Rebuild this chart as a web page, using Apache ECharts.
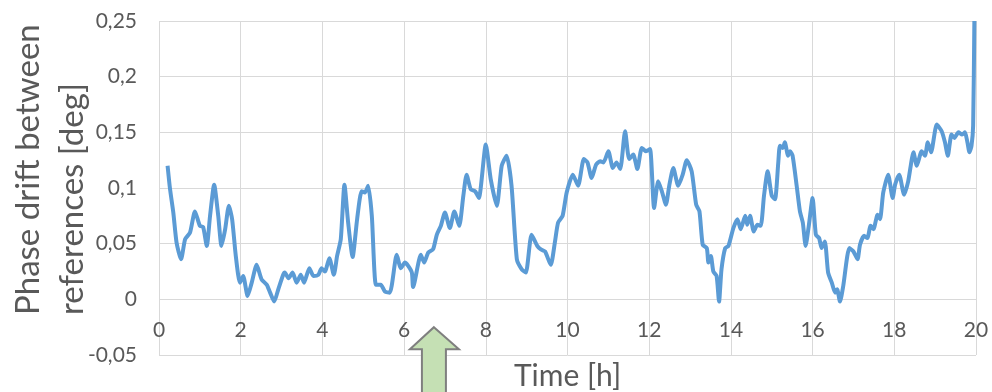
<!DOCTYPE html>
<html>
<head>
<meta charset="utf-8">
<script src="https://cdn.jsdelivr.net/npm/echarts@6/dist/echarts.min.js"></script>
<style>
  html, body { margin: 0; padding: 0; background: #ffffff; }
  #chart { width: 992px; height: 392px; }
</style>
</head>
<body>
<div id="chart"></div>
<script>
// Elapsed time in hours
const timeHours = [
  0.21, 0.27, 0.35, 0.43, 0.54, 0.64, 0.76, 0.88, 1.00, 1.08, 1.17, 1.25, 1.35, 1.45, 1.53, 1.62, 1.71, 1.79, 1.88, 1.98,
  2.06, 2.17, 2.27, 2.39, 2.51, 2.64, 2.72, 2.82, 2.92, 3.04, 3.08, 3.17, 3.27, 3.37, 3.47, 3.55, 3.68, 3.78, 3.90, 3.98,
  4.06, 4.17, 4.28, 4.36, 4.45, 4.54, 4.63, 4.74, 4.85, 4.96, 5.04, 5.12, 5.21, 5.31, 5.43, 5.53, 5.65, 5.82, 5.92, 6.02,
  6.10, 6.19, 6.22, 6.41, 6.49, 6.59, 6.71, 6.80, 6.90, 7.00, 7.12, 7.23, 7.35, 7.45, 7.53, 7.63, 7.74, 7.83, 8.00, 8.12,
  8.27, 8.39, 8.51, 8.63, 8.76, 8.88, 8.98, 9.12, 9.26, 9.34, 9.45, 9.59, 9.69, 9.77, 9.88, 9.98, 10.13, 10.26, 10.40, 10.49,
  10.59, 10.70, 10.80, 10.88, 11.00, 11.11, 11.20, 11.29, 11.41, 11.51, 11.61, 11.71, 11.82, 11.92, 12.02, 12.12, 12.22, 12.31, 12.41, 12.49,
  12.59, 12.71, 12.82, 12.92, 13.04, 13.15, 13.23, 13.31, 13.41, 13.45, 13.51, 13.57, 13.65, 13.71, 13.77, 13.86, 13.94, 14.06, 14.16, 14.24,
  14.35, 14.40, 14.47, 14.56, 14.65, 14.73, 14.81, 14.90, 15.00, 15.08, 15.16, 15.20, 15.27, 15.32, 15.40, 15.45, 15.51, 15.61, 15.69, 15.76,
  15.83, 15.91, 16.00, 16.08, 16.16, 16.22, 16.30, 16.38, 16.47, 16.55, 16.60, 16.67, 16.75, 16.90, 17.00, 17.10, 17.16, 17.26, 17.34, 17.42,
  17.49, 17.59, 17.65, 17.73, 17.85, 17.96, 18.02, 18.12, 18.24, 18.34, 18.47, 18.55, 18.67, 18.75, 18.82, 18.90, 19.04, 19.16, 19.24, 19.31,
  19.40, 19.47, 19.57, 19.66, 19.73, 19.79, 19.84, 19.89, 19.93, 19.96
];

// Phase drift between the two references, degrees
const phaseDrift = [
  0.120, 0.099, 0.078, 0.051, 0.036, 0.054, 0.060, 0.079, 0.066, 0.065, 0.048, 0.075, 0.103, 0.075, 0.048, 0.063, 0.084, 0.072, 0.039, 0.015,
  0.021, 0.003, 0.015, 0.031, 0.018, 0.013, 0.006, -0.002, 0.009, 0.022, 0.024, 0.019, 0.024, 0.015, 0.022, 0.015, 0.028, 0.021, 0.022, 0.028,
  0.025, 0.037, 0.022, 0.039, 0.054, 0.103, 0.069, 0.038, 0.072, 0.097, 0.096, 0.102, 0.075, 0.013, 0.013, 0.007, 0.006, 0.040, 0.028, 0.033,
  0.030, 0.024, 0.011, 0.040, 0.033, 0.042, 0.045, 0.058, 0.066, 0.078, 0.064, 0.079, 0.066, 0.093, 0.112, 0.099, 0.097, 0.091, 0.139, 0.108,
  0.084, 0.120, 0.129, 0.102, 0.036, 0.027, 0.024, 0.058, 0.048, 0.045, 0.043, 0.031, 0.051, 0.069, 0.075, 0.096, 0.112, 0.102, 0.126, 0.123,
  0.109, 0.121, 0.124, 0.123, 0.133, 0.118, 0.123, 0.117, 0.151, 0.126, 0.130, 0.117, 0.136, 0.133, 0.135, 0.082, 0.106, 0.097, 0.085, 0.102,
  0.118, 0.102, 0.112, 0.125, 0.115, 0.085, 0.079, 0.049, 0.046, 0.033, 0.039, 0.025, 0.021, -0.002, 0.027, 0.046, 0.048, 0.064, 0.072, 0.063,
  0.075, 0.067, 0.075, 0.061, 0.067, 0.066, 0.093, 0.115, 0.093, 0.090, 0.123, 0.138, 0.136, 0.141, 0.129, 0.133, 0.129, 0.102, 0.079, 0.069,
  0.048, 0.067, 0.091, 0.058, 0.055, 0.046, 0.052, 0.024, 0.015, 0.006, 0.009, -0.002, 0.012, 0.046, 0.043, 0.036, 0.049, 0.057, 0.055, 0.066,
  0.063, 0.076, 0.072, 0.096, 0.112, 0.091, 0.103, 0.112, 0.094, 0.106, 0.132, 0.120, 0.133, 0.129, 0.141, 0.132, 0.157, 0.151, 0.141, 0.129,
  0.148, 0.145, 0.150, 0.148, 0.150, 0.141, 0.132, 0.138, 0.156, 0.250
];

// Axis ranges and steps
const xRange = [0, 20, 2];
const yRange = [-0.05, 0.25, 0.05];

// Time at which the marker arrow points
const arrowTime = 6.73;

const seriesData = timeHours.map((t, i) => [t, phaseDrift[i]]);

const textColor = '#595959';
const gridColor = '#d9d9d9';
const fontFamily = 'Lato, "Open Sans", sans-serif';

const chart = echarts.init(document.getElementById('chart'), null, { renderer: 'canvas' });

chart.setOption({
  animation: false,
  backgroundColor: '#ffffff',
  grid: { left: 159, right: 16, top: 21, bottom: 37, containLabel: false, outerBoundsMode: 'none' },
  xAxis: {
    type: 'value',
    min: xRange[0],
    max: xRange[1],
    interval: xRange[2],
    name: 'Time [h]',
    nameLocation: 'middle',
    nameGap: 6,
    nameTextStyle: { color: textColor, fontSize: 30, fontFamily: fontFamily, verticalAlign: 'top' },
    // tick labels sit just under the zero line, inside the plot's lower band
    axisLine: { show: false, onZero: false },
    axisTick: { show: false },
    axisLabel: { color: textColor, fontSize: 21, fontFamily: fontFamily, margin: -35 },
    splitLine: { show: true, lineStyle: { color: gridColor, width: 1 } }
  },
  yAxis: {
    type: 'value',
    min: yRange[0],
    max: yRange[1],
    interval: yRange[2],
    axisLine: { show: false },
    axisTick: { show: false },
    axisLabel: {
      color: textColor, fontSize: 21, fontFamily: fontFamily, margin: 22,
      formatter: v => String(Math.round(v * 100) / 100).replace('.', ',')
    },
    splitLine: { show: true, lineStyle: { color: gridColor, width: 1 } }
  },
  series: [{
    type: 'line',
    data: seriesData,
    showSymbol: false,
    smooth: 0.2,
    lineStyle: { color: '#5b9bd5', width: 4 },
    clip: false
  }]
});

// Rotated y-axis title and the green marker arrow
const tip = chart.convertToPixel({ gridIndex: 0 }, [arrowTime, -0.025]);
const tx = tip[0], ty = tip[1];
chart.setOption({
  graphic: [
    {
      type: 'text',
      x: 6, y: 315,
      rotation: Math.PI / 2,
      style: {
        text: 'Phase drift between\nreferences [deg]',
        fill: textColor,
        font: '33px ' + fontFamily,
        align: 'left',
        verticalAlign: 'top',
        lineHeight: 44
      }
    },
    {
      type: 'polygon',
      shape: {
        points: [
          [tx, ty], [tx + 25, ty + 22], [tx + 12, ty + 22], [tx + 12, ty + 70],
          [tx - 12, ty + 70], [tx - 12, ty + 22], [tx - 24, ty + 22]
        ]
      },
      style: { fill: '#c5e0b4', stroke: '#7f7f7f', lineWidth: 2 },
      z: 10
    }
  ]
});
</script>
</body>
</html>
